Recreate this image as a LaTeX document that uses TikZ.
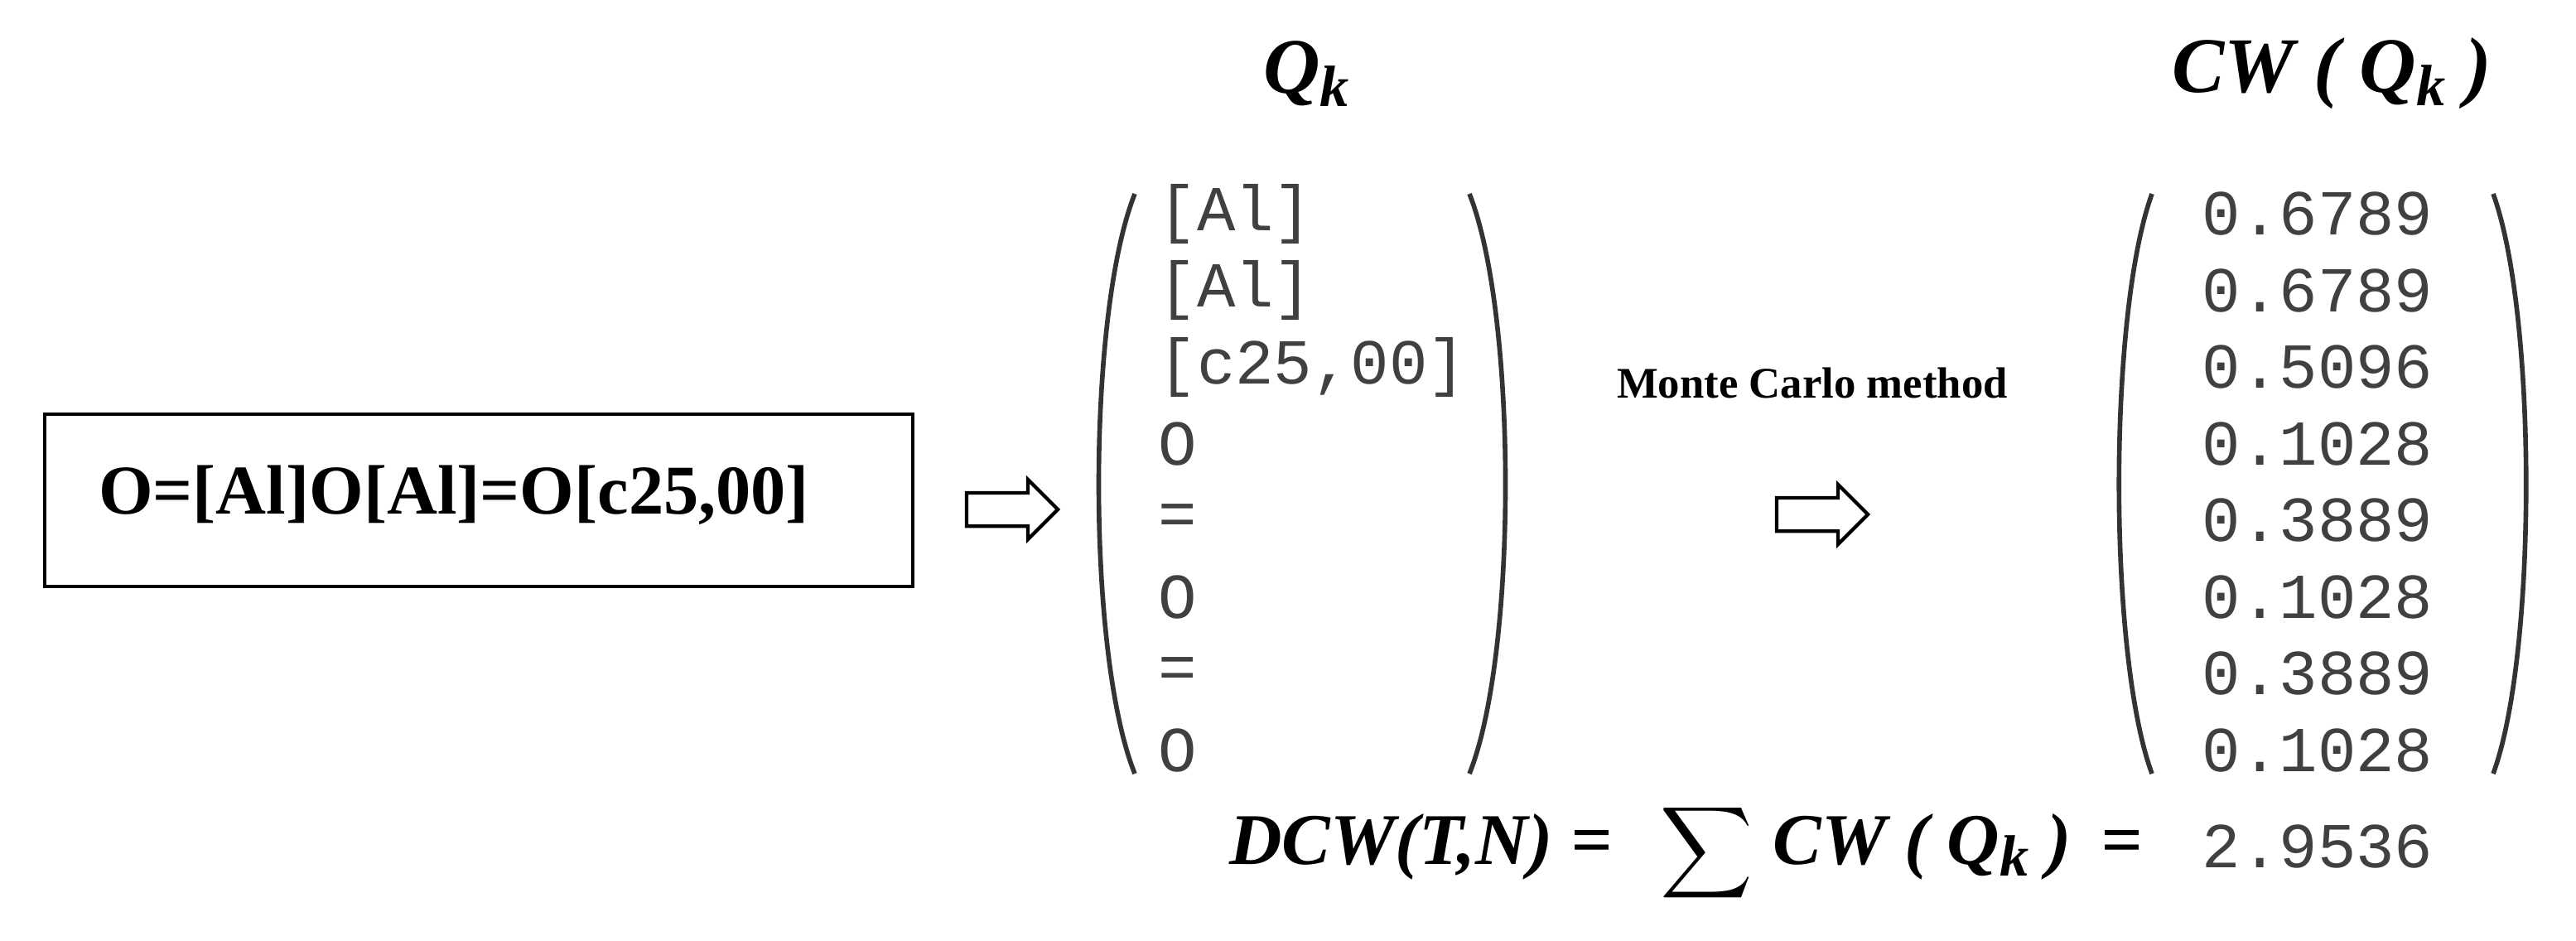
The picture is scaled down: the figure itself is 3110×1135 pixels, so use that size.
\documentclass[tikz,border=0pt]{standalone}
\usepackage{fontspec}
\setmainfont{Liberation Serif}
\setmonofont{Liberation Mono}
\usetikzlibrary{shapes.arrows}
\begin{document}
\begin{tikzpicture}[x=0.01cm,y=-0.01cm,
  mono/.style={font=\fontsize{22}{22}\selectfont\ttfamily, text=black!75, anchor=west, inner sep=0},
  ttl/.style={font=\fontsize{27}{27}\selectfont\bfseries\itshape},
  harrow/.style={single arrow, draw, line width=1.2pt, minimum height=1.1cm, single arrow head extend=0.16cm, inner sep=0, text height=0.36cm, text width=0pt},
  par/.style={line width=1.6pt, black!80}]
\useasboundingbox (0,0) rectangle (3110,1135);
\node[draw, line width=1.2pt, minimum width=10.47cm, minimum height=2.08cm] (box) at (578,604) {};
\node[font=\fontsize{24}{24}\selectfont\bfseries] (boxt) at (548,598) {O=[Al]O[Al]=O[c25,00]};
\node[harrow] (a1) at (1212,615) {};
\node[ttl] (q) at (1577,89) {Q\raisebox{-0.35ex}{\fontsize{20}{20}\selectfont k}};
\foreach \t [count=\i] in {[Al],[Al],{[c25,00]},O,=,O,=,O}
  \node[mono] (l\i) at (1398,{258+(\i-1)*92.5}) {\t};
\draw[par] (1370,234) .. controls (1312,380) and (1312,790) .. (1370,934);
\draw[par] (1774,234) .. controls (1832,380) and (1832,790) .. (1774,934);
\node[font=\fontsize{15}{15}\selectfont\bfseries] (mc) at (2188,462) {Monte Carlo method};
\node[harrow] (a2) at (2190,621) {};
\node[ttl] (cw) at (2815,89) {CW ( Q\raisebox{-0.35ex}{\fontsize{20}{20}\selectfont k} )};
\foreach \t [count=\i] in {0.6789,0.6789,0.5096,0.1028,0.3889,0.1028,0.3889,0.1028}
  \node[mono] (r\i) at (2658,{258+(\i-1)*92.5}) {\t};
\draw[par] (2598,234) .. controls (2545,380) and (2545,790) .. (2598,934);
\draw[par] (3010,234) .. controls (3063,380) and (3063,790) .. (3010,934);
\node[anchor=west, font=\fontsize{25}{25}\selectfont\bfseries\itshape] (dcw) at (1472,1022) {DCW(T,N) =};
\node (sum) at (2060,1030) {\scalebox{2.2}{$\displaystyle\sum$}};
\node[anchor=west, font=\fontsize{25}{25}\selectfont\bfseries\itshape] (cws) at (2128,1022) {CW ( Q\raisebox{-0.35ex}{\fontsize{20}{20}\selectfont k} ) \,=};
\node[mono] (tot) at (2658,1022) {2.9536};
\end{tikzpicture}
\end{document}
